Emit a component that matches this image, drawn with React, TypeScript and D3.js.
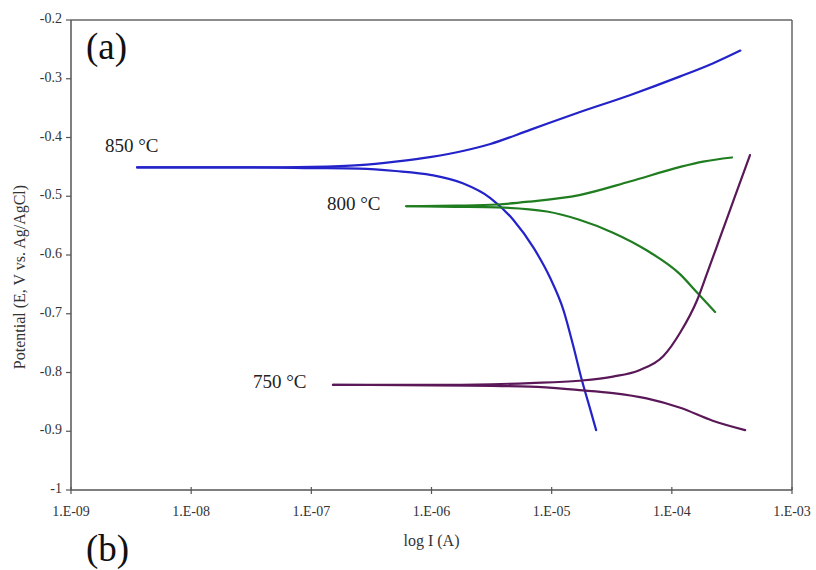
import React from 'react';
import * as d3 from 'd3';

const t850AnodicLogI = [-8.45, -7.5, -7.0, -6.6, -6.3, -6.0, -5.74, -5.51, -5.18, -4.77, -4.35, -3.93, -3.66, -3.43];
const t850AnodicE = [-0.451, -0.451, -0.45, -0.447, -0.441, -0.433, -0.423, -0.411, -0.387, -0.357, -0.328, -0.296, -0.274, -0.252];
const t850CathodicLogI = [-8.45, -7.5, -7.0, -6.6, -6.3, -6.0, -5.74, -5.51, -5.32, -5.15, -5.015, -4.9, -4.82, -4.75, -4.68, -4.63];
const t850CathodicE = [-0.451, -0.451, -0.452, -0.453, -0.457, -0.464, -0.478, -0.503, -0.54, -0.588, -0.638, -0.695, -0.755, -0.812, -0.862, -0.898];

const t800AnodicLogI = [-6.21, -5.8, -5.45, -5.18, -4.77, -4.35, -3.93, -3.74, -3.5];
const t800AnodicE = [-0.517, -0.516, -0.514, -0.509, -0.498, -0.475, -0.45, -0.441, -0.434];
const t800CathodicLogI = [-6.21, -5.8, -5.45, -5.04, -4.77, -4.49, -4.21, -3.93, -3.79, -3.64];
const t800CathodicE = [-0.517, -0.518, -0.519, -0.526, -0.54, -0.562, -0.592, -0.633, -0.664, -0.697];

const t750AnodicLogI = [-6.82, -6.0, -5.5, -5.18, -4.77, -4.49, -4.27, -4.07, -3.93, -3.79, -3.71, -3.6, -3.48, -3.35];
const t750AnodicE = [-0.821, -0.821, -0.82, -0.818, -0.814, -0.807, -0.796, -0.772, -0.732, -0.677, -0.633, -0.571, -0.503, -0.43];
const t750CathodicLogI = [-6.82, -6.0, -5.5, -5.18, -4.77, -4.49, -4.21, -3.93, -3.66, -3.39];
const t750CathodicE = [-0.821, -0.822, -0.823, -0.824, -0.83, -0.835, -0.844, -0.86, -0.882, -0.898];

const xTicks = [1e-9, 1e-8, 1e-7, 1e-6, 1e-5, 1e-4, 1e-3];
const xTickLabels = ['1.E-09', '1.E-08', '1.E-07', '1.E-06', '1.E-05', '1.E-04', '1.E-03'];
const yTicks = [-0.2, -0.3, -0.4, -0.5, -0.6, -0.7, -0.8, -0.9, -1];
const yTickLabels = ['-0.2', '-0.3', '-0.4', '-0.5', '-0.6', '-0.7', '-0.8', '-0.9', '-1'];

const series = [
    { label: '850 °C', color: '#2323c9', branches: [[t850AnodicLogI, t850AnodicE], [t850CathodicLogI, t850CathodicE]], labelPos: [105, 152] },
    { label: '800 °C', color: '#1f7d1f', branches: [[t800AnodicLogI, t800AnodicE], [t800CathodicLogI, t800CathodicE]], labelPos: [327, 210] },
    { label: '750 °C', color: '#5a1858', branches: [[t750AnodicLogI, t750AnodicE], [t750CathodicLogI, t750CathodicE]], labelPos: [253, 388] },
];

const width = 816;
const height = 570;
const margin = { top: 20, right: 24, bottom: 80, left: 71 };
const FONT = '"Liberation Serif", "Times New Roman", serif';

const App: React.FC = () => {
    const x = d3.scaleLog()
        .domain([1e-9, 1e-3])
        .range([margin.left, width - margin.right]);

    const y = d3.scaleLinear()
        .domain([-1, -0.2])
        .range([height - margin.bottom, margin.top]);

    const line = d3.line<[number, number]>()
        .x(d => x(Math.pow(10, d[0])))
        .y(d => y(d[1]))
        .curve(d3.curveMonotoneX);

    const x0 = margin.left;
    const x1 = width - margin.right;
    const y0 = height - margin.bottom;
    const y1 = margin.top;

    return (
        <svg width={width} height={height} style={{ position: 'absolute', left: 0, top: 0, background: '#fff' }}>
            {/* frame */}
            <line x1={x0} y1={y1} x2={x1} y2={y1} stroke="#666" strokeWidth={1.5} />
            <line x1={x1} y1={y1} x2={x1} y2={y0} stroke="#666" strokeWidth={1.5} />
            <line x1={x0} y1={y0} x2={x1} y2={y0} stroke="#555" strokeWidth={1.5} />
            <line x1={x0} y1={y1} x2={x0} y2={y0} stroke="#555" strokeWidth={1.5} />

            {yTicks.map((t, i) => (
                <g key={t}>
                    <line x1={x0 - 5} x2={x0} y1={y(t)} y2={y(t)} stroke="#555" strokeWidth={1.2} />
                    <text x={x0 - 9} y={y(t)} textAnchor="end" dominantBaseline="middle" fontFamily={FONT} fontSize="14px" fill="#333">
                        {yTickLabels[i]}
                    </text>
                </g>
            ))}

            {xTicks.map((t, i) => (
                <g key={t}>
                    <line x1={x(t)} x2={x(t)} y1={y0 - 3} y2={y0 + 4} stroke="#555" strokeWidth={1.2} />
                    <text x={x(t)} y={y0 + 23} textAnchor="middle" dominantBaseline="middle" fontFamily={FONT} fontSize="14px" fill="#333">
                        {xTickLabels[i]}
                    </text>
                </g>
            ))}

            {series.map(s => (
                <g key={s.label}>
                    {s.branches.map((b, j) => (
                        <path
                            key={j}
                            d={line(b[0].map((v, k) => [v, b[1][k]] as [number, number])) || ''}
                            fill="none"
                            stroke={s.color}
                            strokeWidth={2.2}
                            strokeLinecap="round"
                        />
                    ))}
                    <text x={s.labelPos[0]} y={s.labelPos[1]} fontFamily={FONT} fontSize="19px" fill="#222">
                        {s.label}
                    </text>
                </g>
            ))}

            <text x={(x0 + x1) / 2} y={546} textAnchor="middle" fontFamily={FONT} fontSize="16px" fill="#333">
                log I (A)
            </text>
            <text
                transform={`translate(25, 277) rotate(-90)`}
                textAnchor="middle"
                fontFamily={FONT}
                fontSize="16px"
                fill="#333"
            >
                Potential (E, V vs. Ag/AgCl)
            </text>

            <text x={86} y={59} fontFamily={FONT} fontSize="37px" fill="#111">(a)</text>
            <text x={86} y={561} fontFamily={FONT} fontSize="37px" fill="#111">(b)</text>
        </svg>
    );
};

export default App;
